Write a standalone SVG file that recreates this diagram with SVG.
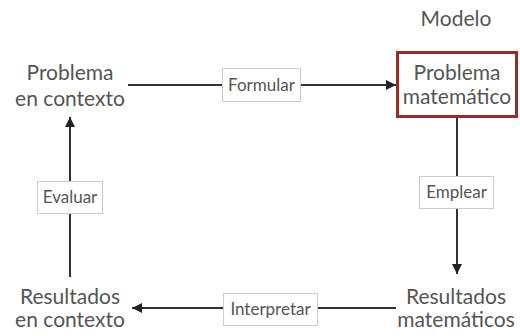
<svg xmlns="http://www.w3.org/2000/svg" width="520" height="336" viewBox="0 0 520 336">
<defs>
<marker id="ah" viewBox="0 0 10 10" refX="10" refY="5" markerWidth="10" markerHeight="10" markerUnits="userSpaceOnUse" orient="auto">
<path d="M0,0 L10,5 L0,10 z" fill="#222"/>
</marker>
<style>
.n{font-family:Lato,"Open Sans",sans-serif;font-size:21px;fill:#555;text-anchor:middle}
.l{font-family:Lato,"Open Sans",sans-serif;font-size:17px;fill:#555;text-anchor:middle}
.lb{fill:#fff;stroke:#ccc;stroke-width:1}
.c{stroke:#333;stroke-width:2;fill:none}
</style>
</defs>
<rect width="520" height="336" fill="#fff"/>
<g id="connectors">
<line class="c" x1="128" y1="85" x2="396" y2="85" marker-end="url(#ah)"/>
<line class="c" x1="457" y1="118" x2="457" y2="274" marker-end="url(#ah)"/>
<line class="c" x1="396" y1="308" x2="132" y2="308" marker-end="url(#ah)"/>
<line class="c" x1="70" y1="277" x2="70" y2="117" marker-end="url(#ah)"/>
<g id="lbl-formular"><rect class="lb" x="222.500" y="68.500" width="78" height="33"/><text class="l" x="261.500" y="91">Formular</text></g>
<g id="lbl-emplear"><rect class="lb" x="419.500" y="176.500" width="74" height="32"/><text class="l" x="456.500" y="198">Emplear</text></g>
<g id="lbl-interpretar"><rect class="lb" x="223.500" y="293.500" width="94" height="32"/><text class="l" x="270.500" y="315">Interpretar</text></g>
<g id="lbl-evaluar"><rect class="lb" x="37.500" y="181.500" width="65" height="32"/><text class="l" x="70" y="203">Evaluar</text></g>
</g>
<g id="modelo"><text class="n" x="456" y="26">Modelo</text></g>
<g id="problema-contexto"><text class="n" x="70" y="80">Problema</text><text class="n" x="70" y="106">en contexto</text></g>
<g id="problema-matematico"><rect x="397.500" y="52.500" width="119" height="64" fill="#fff" stroke="#9b2b25" stroke-width="3"/><text class="n" x="457" y="80">Problema</text><text class="n" x="457" y="104">matemático</text></g>
<g id="resultados-matematicos"><text class="n" x="456" y="304">Resultados</text><text class="n" x="456" y="327">matemáticos</text></g>
<g id="resultados-contexto"><text class="n" x="70" y="304">Resultados</text><text class="n" x="70" y="327">en contexto</text></g>
</svg>
